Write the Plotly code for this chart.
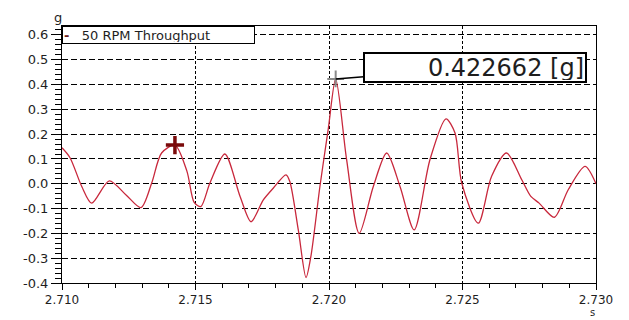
import plotly.graph_objects as go

# Acceleration trace, 50 RPM throughput run
time_s = [2.7100, 2.7103, 2.71074, 2.71111, 2.71177, 2.7124, 2.71296, 2.71336, 2.71373,
          2.71423, 2.71468, 2.71495, 2.71520, 2.71554, 2.71610, 2.71667, 2.71708, 2.71754,
          2.71791, 2.71839, 2.71853, 2.71885, 2.71914, 2.71932, 2.71966, 2.71997, 2.72025,
          2.72066, 2.72113, 2.72166, 2.72216, 2.72266, 2.72319, 2.72378, 2.72438, 2.72472,
          2.72497, 2.72559, 2.72609, 2.72665, 2.72722, 2.72756, 2.72787, 2.72844, 2.72896,
          2.72959, 2.7300]
accel_g = [0.145, 0.105, -0.011, -0.078, 0.012, -0.045, -0.096, 0.003, 0.124,
           0.156, 0.05, -0.075, -0.092, 0.003, 0.120, -0.051, -0.153, -0.065,
           -0.018, 0.036, 0.010, -0.186, -0.378, -0.294, -0.011, 0.219, 0.422662,
           0.097, -0.200, -0.011, 0.124, -0.011, -0.186, 0.097, 0.262, 0.205,
           0.003, -0.159, 0.030, 0.124, 0.016, -0.051, -0.078, -0.135, -0.024,
           0.070, 0.0]

# Cursors
cursor1_t, cursor1_g = 2.71423, 0.156
cursor2_t, cursor2_g = 2.72025, 0.422662

series_name = "50 RPM Throughput"

x_ticks = [2.710, 2.715, 2.720, 2.725, 2.730]
x_labels = ["2.710", "2.715", "2.720", "2.725", "2.730"]
y_ticks = [-0.4, -0.3, -0.2, -0.1, 0.0, 0.1, 0.2, 0.3, 0.4, 0.5, 0.6]
y_labels = ["-0.4", "-0.3", "-0.2", "-0.1", "0.0", "0.1", "0.2", "0.3", "0.4", "0.5", "0.6"]

FONT = "DejaVu Sans"
LINE = "#c8283c"
TEXT = "#1e1e1e"

fig = go.Figure()

fig.add_trace(go.Scatter(
    x=time_s, y=accel_g, mode="lines",
    line=dict(color=LINE, width=1.3, shape="spline", smoothing=0.8),
    name=series_name, hoverinfo="skip",
))

fig.add_trace(go.Scatter(
    x=[cursor1_t], y=[cursor1_g], mode="markers",
    marker=dict(symbol="cross-thin", size=13, line=dict(color="#7a0a0a", width=3.5)),
    hoverinfo="skip",
))
fig.add_trace(go.Scatter(
    x=[cursor2_t], y=[cursor2_g], mode="markers",
    marker=dict(symbol="cross-thin", size=12, line=dict(color="#8a8a8a", width=2)),
    hoverinfo="skip",
))

fig.update_layout(
    width=629, height=320,
    margin=dict(l=62, r=33, t=26, b=37),
    paper_bgcolor="white", plot_bgcolor="white",
    showlegend=False,
    font=dict(family=FONT, size=13, color=TEXT),
)

fig.update_xaxes(
    range=[2.710, 2.730],
    tickvals=x_ticks, ticktext=x_labels,
    ticks="outside", ticklen=6, tickwidth=1, tickcolor="black",
    minor=dict(dtick=0.001, tick0=2.710, ticks="outside", ticklen=4,
               tickcolor="black", showgrid=False),
    showline=True, linecolor="black", linewidth=1, mirror=True,
    showgrid=True, gridcolor="black", gridwidth=1, griddash="3px,2px",
    zeroline=False,
    tickfont=dict(family=FONT, size=12, color=TEXT),
)
fig.update_yaxes(
    range=[-0.4, 0.636],
    tickvals=y_ticks, ticktext=y_labels,
    ticks="outside", ticklen=10, tickwidth=1, tickcolor="black",
    minor=dict(dtick=0.02, tick0=0, ticks="outside", ticklen=6,
               tickcolor="black", showgrid=False),
    showline=True, linecolor="black", linewidth=1, mirror=True,
    showgrid=True, gridcolor="black", gridwidth=1, griddash="6px,3px",
    zeroline=False,
    tickfont=dict(family=FONT, size=13, color=TEXT),
)

# Axis unit labels
fig.add_annotation(xref="paper", yref="paper", x=-0.008, y=1.0, yshift=9,
                   text="g", showarrow=False, xanchor="center", yanchor="middle",
                   font=dict(family=FONT, size=13, color=TEXT))
fig.add_annotation(xref="paper", yref="paper", x=0.994, y=0, yshift=-37,
                   text="s", showarrow=False, xanchor="center", yanchor="bottom",
                   font=dict(family=FONT, size=10, color=TEXT))

# Legend box
fig.add_annotation(
    xref="paper", yref="paper", x=0, y=1, xanchor="left", yanchor="top",
    text=f"<b><span style='color:#6a1a1a'>-</span></b>&nbsp;&nbsp;&nbsp;{series_name}",
    showarrow=False, align="left", width=189, height=14,
    bgcolor="white", bordercolor="black", borderwidth=1, borderpad=1,
    font=dict(family=FONT, size=13, color=TEXT),
)

# Value readout for the second cursor
fig.add_annotation(
    x=cursor2_t, y=cursor2_g, xref="x", yref="y",
    text=f"{cursor2_g:.6f} [g]",
    showarrow=True, arrowhead=0, arrowwidth=1.5, arrowcolor="black",
    ax=139, ay=-11, standoff=0,
    width=218, height=25, align="right",
    bgcolor="white", bordercolor="black", borderwidth=2, borderpad=1,
    font=dict(family=FONT, size=24, color=TEXT),
)

fig.write_html("out.html")
